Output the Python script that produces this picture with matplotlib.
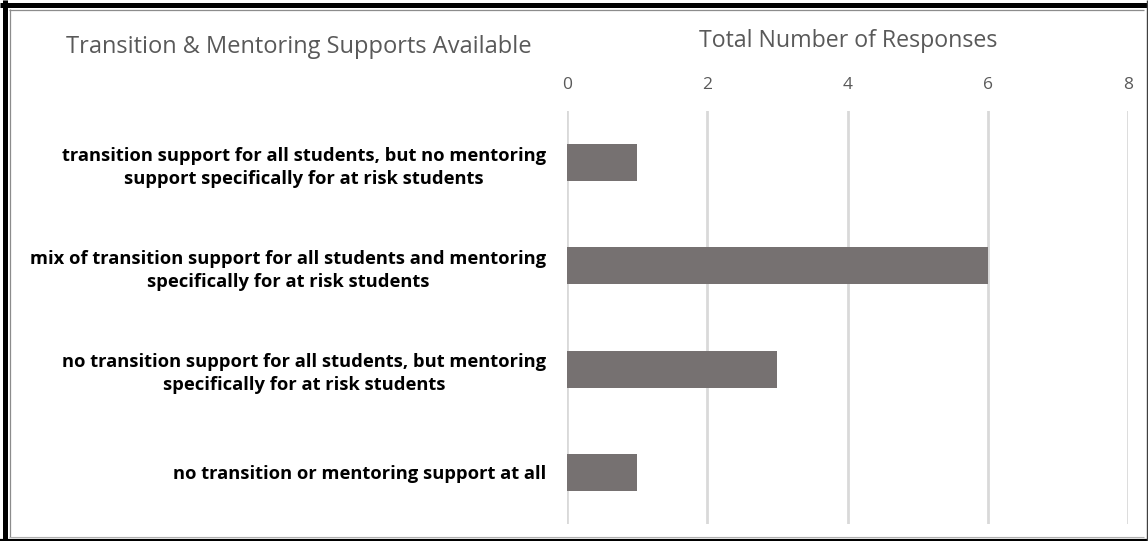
import matplotlib.pyplot as plt
from matplotlib.lines import Line2D

# Survey answers, top to bottom
categories = [
    'transition support for all students, but no mentoring\nsupport specifically for at risk students',
    'mix of transition support for all students and mentoring\nspecifically for at risk students',
    'no transition support for all students, but mentoring\nspecifically for at risk students',
    'no transition or mentoring support at all',
]
responses = [1, 6, 3, 1]
ticks = [0, 2, 4, 6, 8]

plt.rcParams['font.family'] = ['Open Sans', 'DejaVu Sans']

W, H = 1148, 541
fig = plt.figure(figsize=(W / 100, H / 100), dpi=100)
ax = fig.add_axes([567 / W, 1 - 524 / H, (1128 - 567) / W, (524 - 111) / H])

ypos = list(range(len(categories)))
ax.barh(ypos, responses, height=0.36, color='#767171', zorder=3)
ax.set_ylim(len(categories) - 0.5, -0.5)
ax.set_xlim(0, 8)
ax.set_xticks(ticks)
ax.xaxis.tick_top()
ax.tick_params(axis='x', length=0, labelsize=12.5, labelcolor='#595959', pad=13)
ax.grid(axis='x', color='#d9d9d9', linewidth=2, zorder=0)
for s in ax.spines.values():
    s.set_visible(False)

ax.set_yticks(ypos)
ax.set_yticklabels(categories, fontweight='bold', fontsize=13.2, color='black',
                   ha='right', multialignment='center', linespacing=1.35)
ax.tick_params(axis='y', length=0, pad=15)

fig.text(66 / W, 1 - 53 / H, 'Transition & Mentoring Supports Available',
         fontsize=17, color='#595959', va='baseline', ha='left')
fig.text(848 / W, 1 - 47 / H, 'Total Number of Responses',
         fontsize=16.7, color='#595959', va='baseline', ha='center')


def px_line(x0, y0, x1, y1, color, lw):
    fig.add_artist(Line2D([x0 / W, x1 / W], [1 - y0 / H, 1 - y1 / H],
                          transform=fig.transFigure, color=color,
                          linewidth=lw, solid_capstyle='butt'))


# frame: heavy on top/left, thin on bottom/right, plus an inner grey rule
px_line(0, 4.5, W, 4.5, 'black', 3.6)
px_line(4.5, 0, 4.5, H, 'black', 3.6)
px_line(0, 539.5, W, 539.5, 'black', 1.6)
px_line(1146.5, 0, 1146.5, H, '#404040', 1.0)
px_line(9, 9.5, 1144, 9.5, '#8c8c8c', 0.9)
px_line(10, 9, 10, 537, '#8c8c8c', 0.9)
px_line(9, 537, 1144, 537, '#b0b0b0', 0.8)

fig.savefig('out.png', dpi=100)
